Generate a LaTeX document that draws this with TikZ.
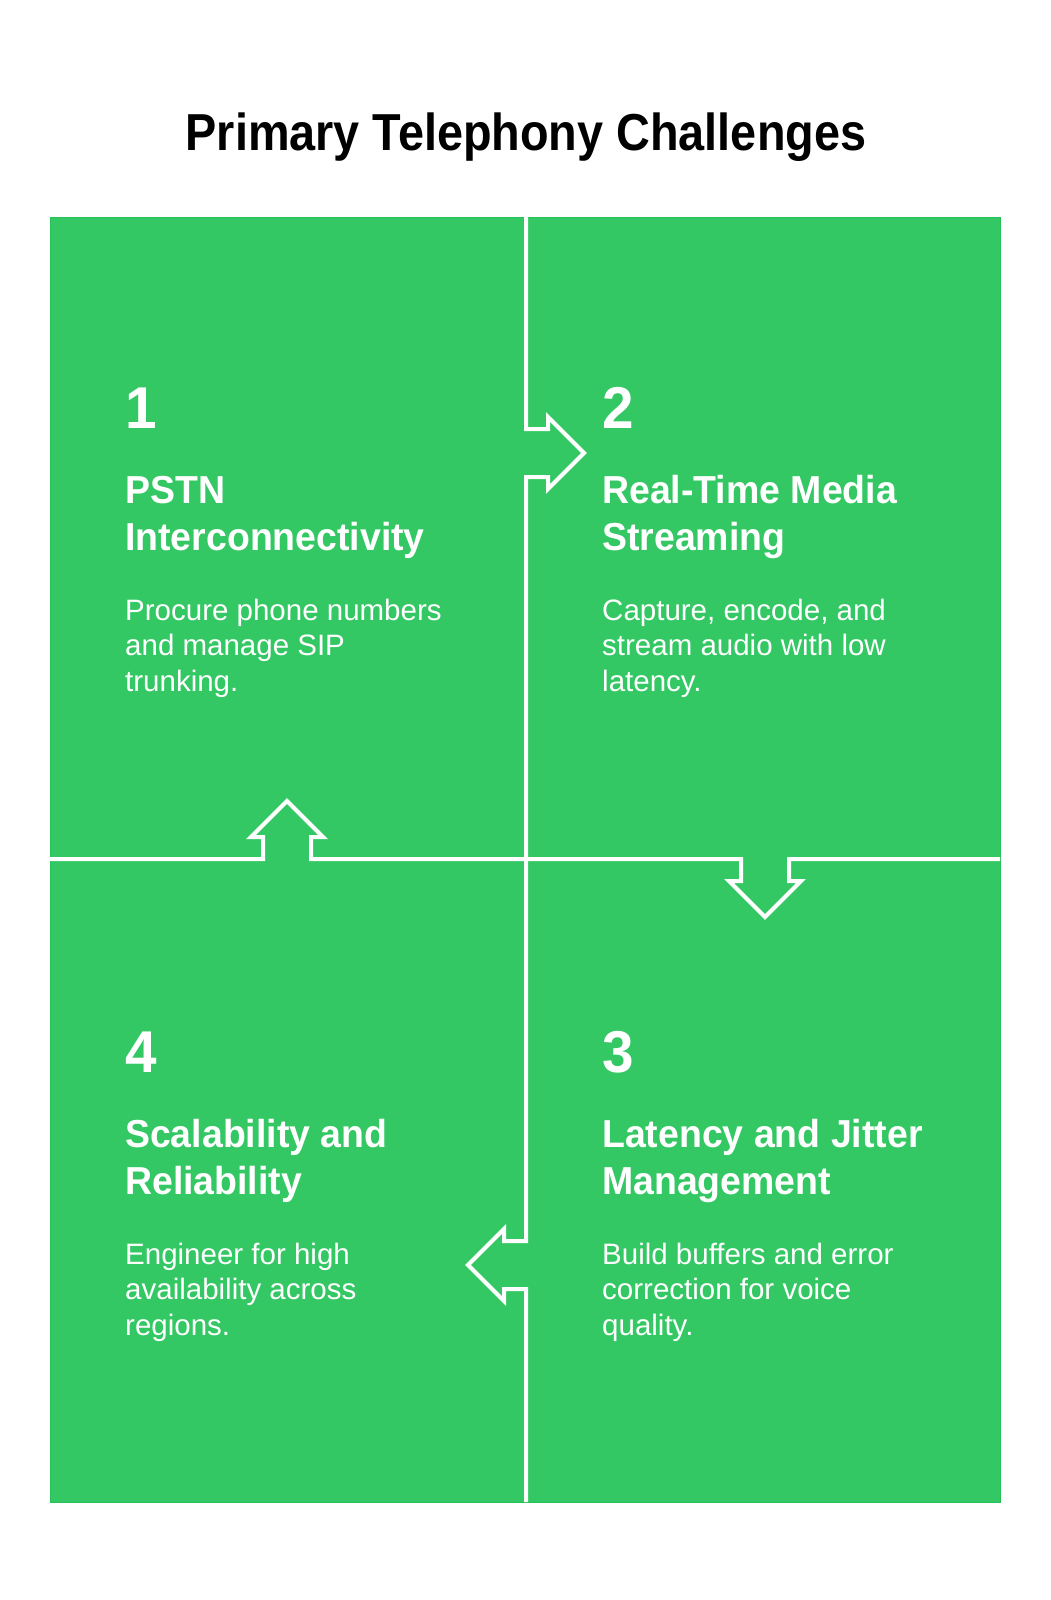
\documentclass[tikz,border=0pt]{standalone}
\usepackage{fontspec}
\setmainfont{Liberation Sans}
\newfontfamily\titlefont[FakeStretch=0.9]{Liberation Sans}
\newfontfamily\headfont[FakeStretch=0.96]{Liberation Sans}
\definecolor{panelgreen}{RGB}{51,200,99}
\definecolor{edgegreen}{RGB}{38,194,88}

\begin{document}
\begin{tikzpicture}[x=1pt, y=-1pt,
    divider/.style={white, line width=4pt, line join=miter},
    number/.style={anchor=base west, inner sep=0pt, text=white,
        font=\headfont\bfseries\fontsize{59}{59}\selectfont},
    heading/.style={anchor=base west, inner sep=0pt, text=white, align=left,
        font=\headfont\bfseries\fontsize{39}{47}\selectfont},
    blurb/.style={anchor=base west, inner sep=0pt, text=white, align=left,
        font=\fontsize{29.5}{35.5}\selectfont}]

\useasboundingbox (0,0) rectangle (1051,1600);

% Title
\node[anchor=base, inner sep=0pt, font=\titlefont\bfseries\fontsize{52}{52}\selectfont]
    (title) at (526,150) {Primary Telephony Challenges};

% Draw the green panel
\draw[edgegreen, fill=panelgreen, line width=1pt] (50,217) rectangle (1000,1502);

% Vertical divider with arrows 1 -> 2 and 3 -> 4
\draw[divider] (526,217) -- (526,429) -- (548,429) -- (548,417) -- (584,453)
    -- (548,489) -- (548,477) -- (526,477) -- (526,1241) -- (504,1241)
    -- (504,1229) -- (468,1265) -- (504,1301) -- (504,1289) -- (526,1289)
    -- (526,1502);

% Horizontal divider with arrows 4 -> 1 and 2 -> 3
\draw[divider] (50,859) -- (263,859) -- (263,837) -- (251,837) -- (287,801)
    -- (323,837) -- (311,837) -- (311,859) -- (741,859) -- (741,881)
    -- (729,881) -- (765,917) -- (801,881) -- (789,881) -- (789,859)
    -- (1000,859);

% Draw the texts of each quarter (anchors sit on the last line)
\foreach \n/\x/\y/\head/\body in {
    1/125/428/{PSTN\\Interconnectivity}/{Procure phone numbers\\and manage SIP\\trunking.},
    2/602/428/{Real-Time Media\\Streaming}/{Capture, encode, and\\stream audio with low\\latency.},
    3/602/1072/{Latency and Jitter\\Management}/{Build buffers and error\\correction for voice\\quality.},
    4/125/1072/{Scalability and\\Reliability}/{Engineer for high\\availability across\\regions.}} {
    \node[number] (num\n) at (\x,\y) {\n};
    \node[heading] (head\n) at (\x,\y+122) {\head};
    \node[blurb] (body\n) at (\x,\y+263) {\body};
}

\end{tikzpicture}
\end{document}
